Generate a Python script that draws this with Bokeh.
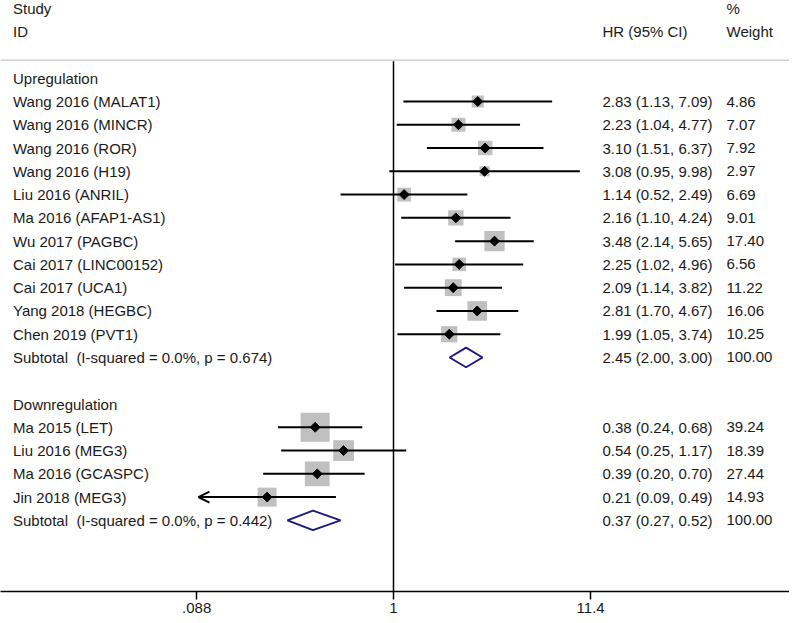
import math
from bokeh.plotting import figure
from bokeh.models import Range1d, FixedTicker, Span, Arrow, OpenHead, LinearScale
from bokeh.core.properties import value
from bokeh.embed import file_html
from bokeh.resources import INLINE

# ---------------- data ----------------
up_studies = ["Wang 2016 (MALAT1)", "Wang 2016 (MINCR)", "Wang 2016 (ROR)", "Wang 2016 (H19)",
              "Liu 2016 (ANRIL)", "Ma 2016 (AFAP1-AS1)", "Wu 2017 (PAGBC)", "Cai 2017 (LINC00152)",
              "Cai 2017 (UCA1)", "Yang 2018 (HEGBC)", "Chen 2019 (PVT1)"]
up_hr = [2.83, 2.23, 3.10, 3.08, 1.14, 2.16, 3.48, 2.25, 2.09, 2.81, 1.99]
up_lo = [1.13, 1.04, 1.51, 0.95, 0.52, 1.10, 2.14, 1.02, 1.14, 1.70, 1.05]
up_hi = [7.09, 4.77, 6.37, 9.98, 2.49, 4.24, 5.65, 4.96, 3.82, 4.67, 3.74]
up_wt = [4.86, 7.07, 7.92, 2.97, 6.69, 9.01, 17.40, 6.56, 11.22, 16.06, 10.25]
up_sub = [2.45, 2.00, 3.00]
up_i2, up_p = 0.0, 0.674

down_studies = ["Ma 2015 (LET)", "Liu 2016 (MEG3)", "Ma 2016 (GCASPC)", "Jin 2018 (MEG3)"]
down_hr = [0.38, 0.54, 0.39, 0.21]
down_lo = [0.24, 0.25, 0.20, 0.09]
down_hi = [0.68, 1.17, 0.70, 0.49]
down_wt = [39.24, 18.39, 27.44, 14.93]
down_sub = [0.37, 0.27, 0.52]
down_i2, down_p = 0.0, 0.442

truncated_left = ["Jin 2018 (MEG3)"]
group_names = ["Upregulation", "Downregulation"]
tick_values = [0.088, 1, 11.4]
tick_labels = [".088", "1", "11.4"]

# ---------------- layout (pixels) ----------------
W, H = 789, 615
X_ONE = 393.0        # px where HR = 1
PX_PER_LN = 81.0
ROW0 = 78.0          # px of first row centre
ROW_H = 23.35
FRAME_BOTTOM = 593
COL_STUDY, COL_HR, COL_WT = 12.5, 602, 726
FONT = value("Liberation Sans")
FS = "15px"
TXT = "#1a1a1a"


def row_of_px(py):
    return (py - ROW0) / ROW_H


x_lo = math.exp((0 - X_ONE) / PX_PER_LN)
x_hi = math.exp((W - X_ONE) / PX_PER_LN)
y_top = row_of_px(0)
y_bot = row_of_px(FRAME_BOTTOM)

p = figure(width=W, height=H, x_axis_type="log",
           x_range=Range1d(x_lo, x_hi), y_range=Range1d(y_bot, y_top),
           y_axis_location=None, output_backend="svg", toolbar_location=None,
           min_border_left=0, min_border_right=0, min_border_top=0,
           min_border_bottom=H - FRAME_BOTTOM, outline_line_color=None,
           background_fill_color="white", border_fill_color="white")
p.grid.visible = False
p.extra_x_ranges = {"px": Range1d(0, W)}
p.extra_x_scales = {"px": LinearScale()}

ax = p.xaxis[0]
ax.ticker = FixedTicker(ticks=tick_values)
ax.major_label_overrides = {v: l for v, l in zip(tick_values, tick_labels)}
ax.axis_line_color = "black"
ax.axis_line_width = 1.5
ax.major_tick_line_color = "black"
ax.major_tick_line_width = 1.5
ax.major_tick_out = 8
ax.major_tick_in = 0
ax.minor_tick_line_color = None
ax.major_label_standoff = 3
ax.major_label_text_font = "Liberation Sans"
ax.major_label_text_font_size = FS
ax.major_label_text_color = TXT

# ---------------- rows ----------------
up_rows = list(range(1, 1 + len(up_studies)))
up_sub_row = up_rows[-1] + 1
down_head_row = up_sub_row + 2
down_rows = list(range(down_head_row + 1, down_head_row + 1 + len(down_studies)))
down_sub_row = down_rows[-1] + 1

studies = up_studies + down_studies
hr = up_hr + down_hr
lo = up_lo + down_lo
hi = up_hi + down_hi
wt = up_wt + down_wt
rows = up_rows + down_rows

# reference line and header rule
rule_y = row_of_px(60)
p.add_layout(Span(location=rule_y, dimension="width", line_color="#cfcfcf", line_width=1.5))
p.segment(x0=[1], y0=[row_of_px(61)], x1=[1], y1=[y_bot], line_color="black", line_width=1.5)

# weight boxes
sizes = [4.19 * math.sqrt(w) + 2.8 for w in wt]
p.scatter(x=hr, y=rows, size=sizes, marker="square", fill_color="#c0c0c0", line_color=None)

# CI lines
p.segment(x0=lo, y0=rows, x1=hi, y1=rows, line_color="black", line_width=2)
for s, l, h, r in zip(studies, lo, hi, rows):
    if s in truncated_left:
        p.add_layout(Arrow(end=OpenHead(size=11, line_width=2, line_color="black"),
                           x_start=h, y_start=r, x_end=l, y_end=r,
                           line_color="black", line_width=2))

# point estimates (small black diamonds)
p.scatter(x=hr, y=rows, size=7, marker="square", angle=math.pi / 4,
          fill_color="black", line_color="black")

# subtotal diamonds
half = 9.8 / ROW_H
sub_xs, sub_ys = [], []
for (e, l, h), r in ((up_sub, up_sub_row), (down_sub, down_sub_row)):
    sub_xs.append([l, e, h, e])
    sub_ys.append([r, r - half, r, r + half])
p.patches(xs=sub_xs, ys=sub_ys, fill_color=None, line_color="#1c1c80", line_width=2)

# ---------------- text ----------------
def txt(xs, ys, texts, baseline="middle"):
    p.text(x=xs, y=ys, text=texts, x_range_name="px", text_font=FONT,
           text_font_size=FS, text_color=TXT, text_align="left", text_baseline=baseline)

left_texts = ([group_names[0]] + up_studies +
              ["Subtotal\u00a0 (I-squared = %.1f%%, p = %.3f)" % (up_i2, up_p)] +
              [group_names[1]] + down_studies +
              ["Subtotal\u00a0 (I-squared = %.1f%%, p = %.3f)" % (down_i2, down_p)])
left_rows = [0] + up_rows + [up_sub_row] + [down_head_row] + down_rows + [down_sub_row]
txt([COL_STUDY] * len(left_texts), left_rows, left_texts)

hr_texts = ["%.2f (%.2f, %.2f)" % (e, l, h) for e, l, h in zip(hr, lo, hi)]
hr_texts += ["%.2f (%.2f, %.2f)" % tuple(up_sub), "%.2f (%.2f, %.2f)" % tuple(down_sub)]
wt_texts = ["%.2f" % w for w in wt] + ["%.2f" % 100, "%.2f" % 100]
val_rows = rows + [up_sub_row, down_sub_row]
txt([COL_HR] * len(hr_texts), val_rows, hr_texts)
txt([COL_WT] * len(wt_texts), val_rows, wt_texts)

# headers
study_row = row_of_px(8.5)
id_row = row_of_px(31)
txt([COL_STUDY, COL_WT], [study_row, study_row], ["Study", "%"])
txt([COL_STUDY, COL_HR, COL_WT], [id_row] * 3, ["ID", "HR (95% CI)", "Weight"])

open("out.html", "w").write(file_html(p, INLINE))
